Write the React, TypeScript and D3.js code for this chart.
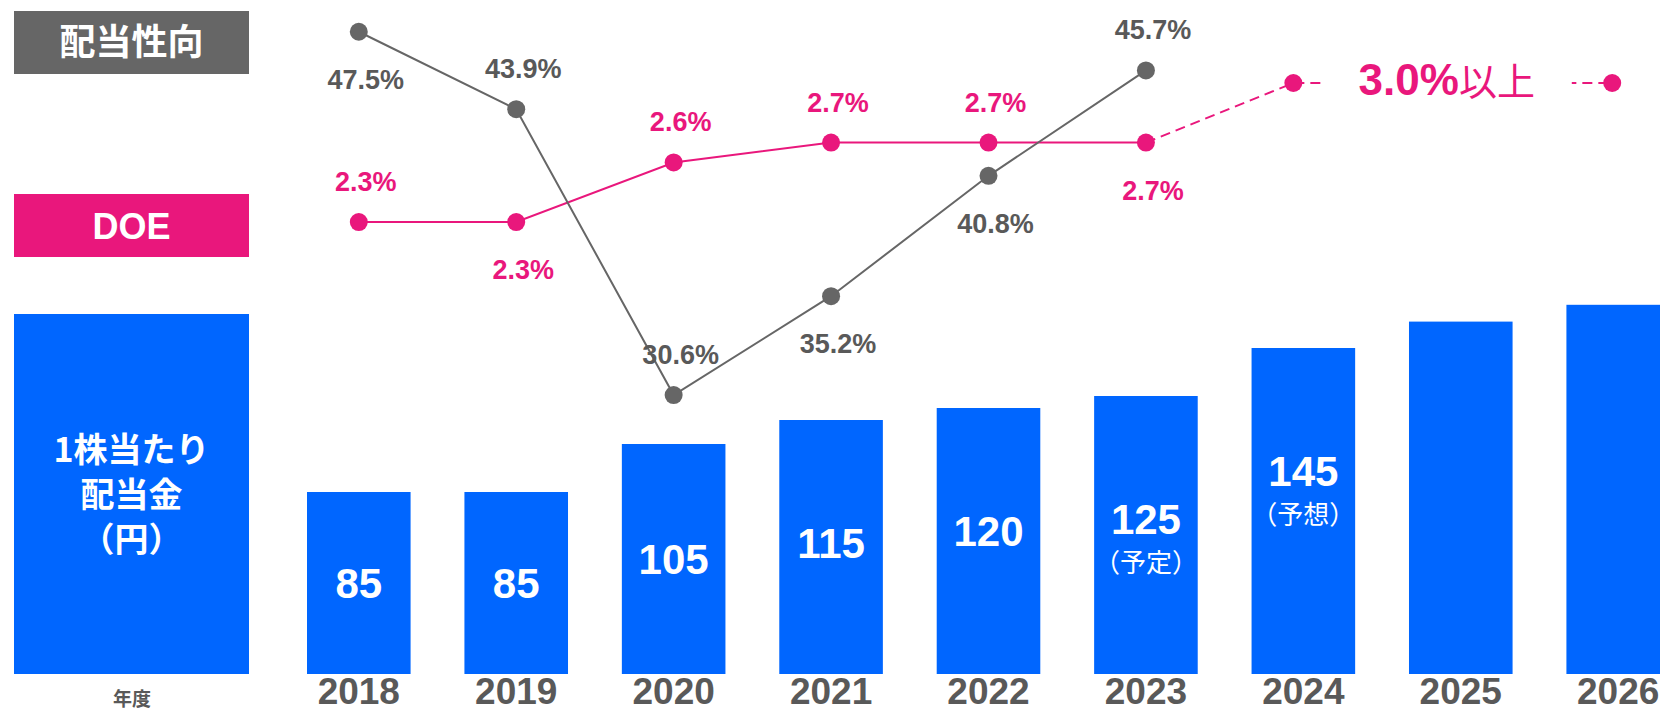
import React from "react";
import * as d3 from "d3";

// fiscal years on the x axis
const years = ["2018", "2019", "2020", "2021", "2022", "2023", "2024", "2025", "2026"];
// dividend per share (yen); 2025/2026 are unlabelled in the source
const dividends = [85, 85, 105, 115, 120, 125, 145, 156, 163];
const dividendLabels = ["85", "85", "105", "115", "120", "125", "145", "", ""];
const dividendNotes = ["", "", "", "", "", "（予定）", "（予想）", "", ""];

// payout ratio (%)
const payoutYears = ["2018", "2019", "2020", "2021", "2022", "2023"];
const payoutRatio = [47.5, 43.9, 30.6, 35.2, 40.8, 45.7];

// DOE (%)
const doeYears = ["2018", "2019", "2020", "2021", "2022", "2023"];
const doe = [2.3, 2.3, 2.6, 2.7, 2.7, 2.7];
const doeTargetYears = ["2024", "2026"];
const doeTarget = 3.0;
const doeTargetSuffix = "以上";

// row titles
const payoutTitle = "配当性向";
const doeTitle = "DOE";
const dividendTitle = ["1株当たり", "配当金", "（円）"];
const yearTitle = "年度";

const W = 1660;
const H = 711;
const BLUE = "#0066FF";
const PINK = "#E9177C";
const GRAY = "#666666";
const TEXT_GRAY = "#595959";
const LATIN = "'Liberation Sans', Arial, 'Noto Sans CJK JP', sans-serif";
const CJK = "'Noto Sans CJK JP', 'Liberation Sans', sans-serif";

export default function App() {
  const baseline = 674;

  const x = d3.scaleBand().domain(years).range([307, 1670]).paddingInner(0.342).paddingOuter(0);
  const cx = (y: string) => (x(y) as number) + x.bandwidth() / 2;

  const yBar = d3.scaleLinear().domain([0, 170]).range([696, 288]);
  const yPay = d3.scaleLinear().domain([30, 50]).range([408, -22]);
  const yDoe = d3.scaleLinear().domain([2, 3]).range([281.6, 83]);

  // label placement: 1 = below the point, -1 = above
  const paySide = [1, -1, -1, 1, 1, -1];
  const doeSide = [-1, 1, -1, -1, -1, 1];
  const labelDy = (side: number) => (side > 0 ? 57 : -31);

  const payLine = d3
    .line<number>()
    .x((_, i) => cx(payoutYears[i]))
    .y((d) => yPay(d));

  const doeLine = d3
    .line<number>()
    .x((_, i) => cx(doeYears[i]))
    .y((d) => yDoe(d));

  const targetPts: [number, number][] = [
    [cx(doeYears[doeYears.length - 1]), yDoe(doe[doe.length - 1])],
    [cx(doeTargetYears[0]) - 10, yDoe(doeTarget)],
    [cx(doeTargetYears[1]) - 6, yDoe(doeTarget)],
  ];
  const targetLine = d3.line()(targetPts) as string;
  const targetTextX = (targetPts[1][0] + targetPts[2][0]) / 2 - 6;
  const targetY = yDoe(doeTarget);

  const boxX = 14;
  const boxW = 235;

  return (
    <svg
      width={W}
      height={H}
      style={{ position: "fixed", left: 0, top: 0, background: "#fff" }}
    >
      {/* left row titles */}
      <rect x={boxX} y={11} width={boxW} height={63} fill={GRAY} />
      <text x={boxX + boxW / 2} y={55} textAnchor="middle" fill="#fff" fontFamily={CJK} fontWeight="bold" fontSize={36}>
        {payoutTitle}
      </text>
      <rect x={boxX} y={194} width={boxW} height={63} fill={PINK} />
      <text x={boxX + boxW / 2} y={239} textAnchor="middle" fill="#fff" fontFamily={LATIN} fontWeight="bold" fontSize={36}>
        {doeTitle}
      </text>
      <rect x={boxX} y={314} width={boxW} height={baseline - 314} fill={BLUE} />
      <text textAnchor="middle" fill="#fff" fontFamily={CJK} fontWeight="bold" fontSize={34}>
        {dividendTitle.map((t, i) => (
          <tspan key={t} x={boxX + boxW / 2} y={462 + i * 45}>
            {t}
          </tspan>
        ))}
      </text>
      <text x={132} y={706} textAnchor="middle" fill={TEXT_GRAY} fontFamily={CJK} fontWeight="bold" fontSize={19}>
        {yearTitle}
      </text>

      {/* dividend bars */}
      {years.map((yr, i) => {
        const top = yBar(dividends[i]);
        const numY = Math.min(top + 138, (top + baseline) / 2 + 15);
        return (
          <g key={yr}>
            <rect x={x(yr)} y={top} width={x.bandwidth()} height={baseline - top} fill={BLUE} />
            {dividendLabels[i] && (
              <text x={cx(yr)} y={numY} textAnchor="middle" fill="#fff" fontFamily={LATIN} fontWeight="bold" fontSize={42}>
                {dividendLabels[i]}
              </text>
            )}
            {dividendNotes[i] && (
              <text x={cx(yr)} y={numY + 38} textAnchor="middle" fill="#fff" fontFamily={CJK} fontSize={26}>
                {dividendNotes[i]}
              </text>
            )}
            <text x={cx(yr)} y={704} textAnchor="middle" fill={TEXT_GRAY} fontFamily={LATIN} fontWeight="bold" fontSize={37}>
              {yr}
            </text>
          </g>
        );
      })}

      {/* DOE target, dashed */}
      <path d={targetLine} fill="none" stroke={PINK} strokeWidth={2} strokeDasharray="10,6" />
      <rect x={targetTextX - 125} y={targetY - 30} width={250} height={60} fill="#fff" />
      <text x={targetTextX} y={targetY + 12} textAnchor="middle" fill={PINK}>
        <tspan fontFamily={LATIN} fontWeight="bold" fontSize={44}>
          {`${doeTarget.toFixed(1)}%`}
        </tspan>
        <tspan fontFamily={CJK} fontSize={38}>
          {doeTargetSuffix}
        </tspan>
      </text>

      {/* lines */}
      <path d={doeLine(doe) as string} fill="none" stroke={PINK} strokeWidth={2} />
      <path d={payLine(payoutRatio) as string} fill="none" stroke={GRAY} strokeWidth={2} />

      {targetPts.slice(1).map((p, i) => (
        <circle key={"t" + i} cx={p[0]} cy={p[1]} r={9} fill={PINK} />
      ))}

      {doe.map((v, i) => (
        <g key={"d" + i}>
          <circle cx={cx(doeYears[i])} cy={yDoe(v)} r={9} fill={PINK} />
          <text x={cx(doeYears[i]) + 7} y={yDoe(v) + labelDy(doeSide[i])} textAnchor="middle" fill={PINK} fontFamily={LATIN} fontWeight="bold" fontSize={27}>
            {`${v.toFixed(1)}%`}
          </text>
        </g>
      ))}

      {payoutRatio.map((v, i) => (
        <g key={"p" + i}>
          <circle cx={cx(payoutYears[i])} cy={yPay(v)} r={9} fill={GRAY} />
          <text x={cx(payoutYears[i]) + 7} y={yPay(v) + labelDy(paySide[i])} textAnchor="middle" fill={TEXT_GRAY} fontFamily={LATIN} fontWeight="bold" fontSize={27}>
            {`${v.toFixed(1)}%`}
          </text>
        </g>
      ))}
    </svg>
  );
}
